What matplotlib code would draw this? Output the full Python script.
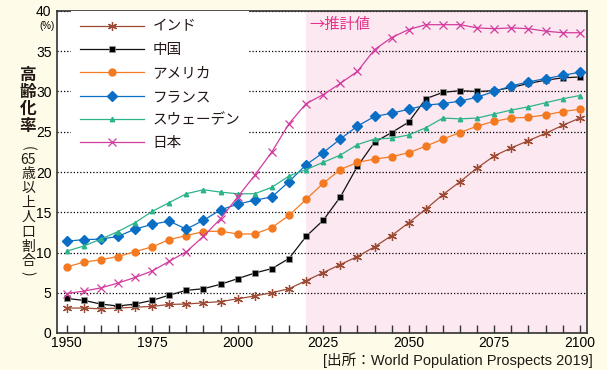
import matplotlib
matplotlib.use('Agg')
import matplotlib.pyplot as plt
from matplotlib.ticker import MultipleLocator

plt.rcParams['font.family'] = ['Liberation Sans', 'Noto Sans CJK JP']

years = list(range(1950, 2101, 5))

india = [3.1, 3.1, 3.0, 3.1, 3.2, 3.3, 3.55, 3.6, 3.75, 3.9, 4.25, 4.6, 5.0, 5.5, 6.5,
         7.5, 8.5, 9.5, 10.7, 12.1, 13.7, 15.4, 17.2, 18.8, 20.5, 22.0, 23.0, 23.9, 24.8,
         25.8, 26.7]
china = [4.3, 4.05, 3.6, 3.35, 3.6, 4.05, 4.7, 5.3, 5.5, 6.05, 6.75, 7.45, 8.0, 9.25, 12.0,
         14.0, 16.9, 20.7, 23.7, 24.9, 26.2, 29.1, 29.9, 30.1, 30.0, 30.1, 30.5, 31.0, 31.4,
         31.7, 31.8]
usa = [8.2, 8.8, 9.1, 9.5, 10.1, 10.7, 11.6, 12.1, 12.6, 12.65, 12.3, 12.3, 13.1, 14.6, 16.6,
       18.6, 20.3, 21.2, 21.6, 21.9, 22.4, 23.2, 24.1, 24.9, 25.7, 26.3, 26.7, 26.8, 27.1,
       27.5, 27.8]
france = [11.4, 11.6, 11.66, 12.0, 12.9, 13.5, 13.9, 12.9, 14.0, 15.3, 16.0, 16.5, 16.9, 18.8,
          20.9, 22.4, 24.1, 25.7, 26.9, 27.3, 27.8, 28.3, 28.5, 28.8, 29.3, 30.0, 30.7, 31.2,
          31.6, 32.0, 32.4]
sweden = [10.16, 10.8, 11.66, 12.6, 13.7, 15.1, 16.2, 17.3, 17.8, 17.5, 17.3, 17.3, 18.1, 19.5,
          20.3, 21.2, 22.1, 23.4, 24.1, 24.2, 24.6, 25.5, 26.7, 26.6, 26.7, 27.2, 27.7, 28.1,
          28.6, 29.1, 29.5]
japan = [4.9, 5.2, 5.6, 6.2, 6.9, 7.7, 8.9, 10.1, 12.0, 14.2, 16.9, 19.6, 22.5, 26.0, 28.5,
         29.6, 31.0, 32.5, 35.2, 36.7, 37.7, 38.3, 38.3, 38.3, 37.9, 37.8, 37.9, 37.8, 37.5,
         37.3, 37.3]

fig = plt.figure(figsize=(6.07, 3.70), dpi=100, facecolor='#FEFCE8')
ax = fig.add_axes([57 / 607, 1 - 333 / 370, 530 / 607, 322 / 370])
ax.set_facecolor('white')

# projection period
ax.axvspan(2020, 2110, color='#FCE8F1', zorder=0, lw=0)

ax.plot(years, india, color='#9C4A34', lw=0.9, marker=(6, 2, 0), ms=6.5, mew=0.9, label='インド', zorder=3)
ax.plot(years, china, color='#111111', lw=0.9, marker='s', ms=4.2, mfc='black', mec='#999999', mew=0.5,
        label='中国', zorder=3)
ax.plot(years, usa, color='#F47A21', lw=0.9, marker='o', ms=5, label='アメリカ', zorder=3)
ax.plot(years, france, color='#0A6EC4', lw=0.9, marker='D', ms=4.8, label='フランス', zorder=3)
ax.plot(years, sweden, color='#2DB38C', lw=0.9, marker='^', ms=3.2, label='スウェーデン', zorder=3)
ax.plot(years, japan, color='#D23C9E', lw=0.9, marker='x', ms=6, mew=0.9, label='日本', zorder=3)

ax.set_xlim(1947.2, 2102.1)
ax.set_ylim(0, 40)
ax.set_xticks(range(1950, 2101, 25))
ax.xaxis.set_minor_locator(MultipleLocator(5))
ax.set_yticks(range(0, 41, 5))
ax.tick_params(axis='x', which='both', direction='in', length=6, width=1, color='#333333',
               labelsize=10, pad=2)
ax.tick_params(axis='y', length=0, labelsize=10, pad=4)

ax.set_axisbelow(True)
ax.yaxis.grid(True, linestyle=(0, (1, 1.6)), color='black', lw=0.9)
for sp in ax.spines.values():
    sp.set_color('#333333')
    sp.set_linewidth(1.2)

leg = ax.legend(loc='upper left', bbox_to_anchor=(0.026, 1.0), borderaxespad=0, borderpad=0.6,
                fontsize=10.5, handlelength=4.4, handletextpad=0.6, labelspacing=0.64,
                frameon=True, facecolor='white', edgecolor='none', framealpha=1, fancybox=False)
leg.set_zorder(5)
for t in leg.get_texts():
    t.set_color('#231815')

fig.text(47 / 607, 1 - 26 / 370, '(%)', fontsize=7, ha='center', va='center')

ax.text(2021.1, 38.3, '→推計値', color='#E6308A', fontsize=11, ha='left', va='center',
        family=['Noto Sans CJK JP', 'DejaVu Sans'])

fig.text(593 / 607, 1 - 360 / 370, '[出所：World Population Prospects 2019]', fontsize=10.5,
         ha='right', va='center', color='#231815')

# vertical axis title, one character per row
title_rows = [('高', 75), ('齢', 92), ('化', 109), ('率', 126)]
for ch, y in title_rows:
    fig.text(28 / 607, 1 - y / 370, ch, fontsize=12, fontweight='bold', ha='center', va='center',
             family=['Noto Sans CJK JP'], color='#231815')
sub_rows = [('(', 148), ('65', 160), ('歳', 174), ('以', 188), ('上', 203), ('人', 217),
            ('口', 232), ('割', 247), ('合', 261), (')', 273)]
for ch, y in sub_rows:
    rot = -90 if ch in '()' else 0
    fig.text(28 / 607, 1 - y / 370, ch, fontsize=10, ha='center', va='center', rotation=rot,
             family=['Noto Sans CJK JP'], color='#231815')

fig.savefig('out.png', dpi=100, facecolor=fig.get_facecolor())
